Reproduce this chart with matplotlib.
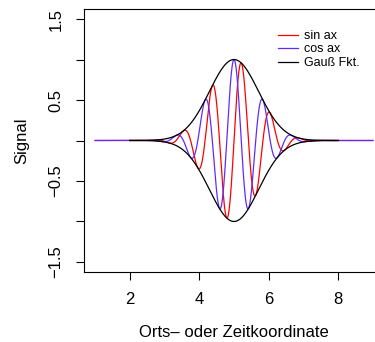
import numpy as np
import matplotlib
matplotlib.use("Agg")
import matplotlib.pyplot as plt

plt.rcParams['font.family'] = ['Liberation Sans', 'DejaVu Sans']

# Parameters of the plotted functions
freq_a = 12 * np.pi / 5      # angular frequency a in sin(ax), cos(ax)
center = 5.0                 # centre of the Gaussian envelope
x_wave_range = [1.0, 9.0]    # x-range of sine / cosine curves
x_gauss_range = [2.0, 8.0]   # x-range of Gaussian envelope
n_points = 1601

x_ticks = [2, 4, 6, 8]
y_ticks = [-1.5, -1.0, -0.5, 0.0, 0.5, 1.0, 1.5]
y_ticklabels = ["\u22121.5", "", "\u22120.5", "", "0.5", "", "1.5"]
legend_labels = ["sin ax", "cos ax", "Gau\u00df Fkt."]

x = np.linspace(x_wave_range[0], x_wave_range[1], n_points)
env = np.exp(-(x - center) ** 2)
sin_w = np.sin(freq_a * x) * env
cos_w = np.cos(freq_a * x) * env
xg = np.linspace(x_gauss_range[0], x_gauss_range[1], n_points)
g = np.exp(-(xg - center) ** 2)

fig = plt.figure(figsize=(3.75, 3.42), dpi=100)
ax = fig.add_axes([84 / 375, 1 - 271.7 / 342, 300 / 375, (271.7 - 9.3) / 342])

lw = 0.9
ax.plot(x, sin_w, color='#ff0000', lw=lw, label=legend_labels[0])
ax.plot(x, cos_w, color='#5f2bff', lw=lw, label=legend_labels[1])
ax.plot(xg, g, color='black', lw=lw, label=legend_labels[2])
ax.plot(xg, -g, color='black', lw=lw)

ax.set_xlim(0.68, 9.32)
ax.set_ylim(-1.62, 1.62)
ax.set_xticks(x_ticks)
ax.set_xticklabels([str(t) for t in x_ticks])
ax.set_yticks(y_ticks)
ax.set_yticklabels(y_ticklabels, rotation=90, va='center')
ax.tick_params(axis='both', length=5.8, width=0.8, labelsize=12, direction='out')
ax.tick_params(axis='x', pad=9)
ax.tick_params(axis='y', pad=9)
for s in ax.spines.values():
    s.set_linewidth(0.8)

ax.set_xlabel("Orts\u2013 oder Zeitkoordinate", fontsize=12, labelpad=13)
ax.set_ylabel("Signal", fontsize=12, labelpad=14)

ax.legend(loc='upper left', bbox_to_anchor=(278 / 375, 1 - 30 / 342),
          bbox_transform=fig.transFigure, frameon=False, fontsize=9,
          borderpad=0, borderaxespad=0, labelspacing=0.12,
          handlelength=1.6, handletextpad=0.5)

fig.savefig("out.png", dpi=100)
